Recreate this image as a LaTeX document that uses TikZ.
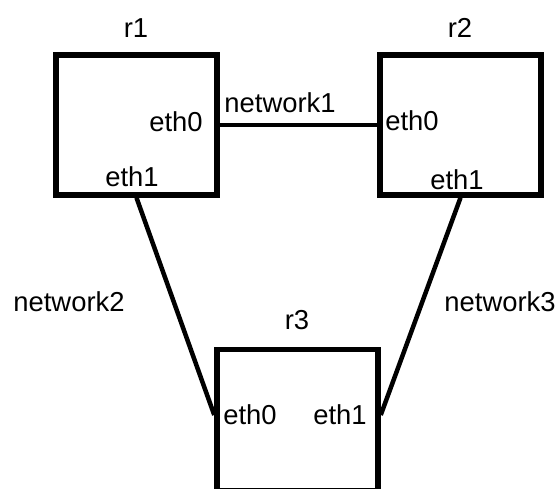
\documentclass[tikz,border=0pt]{standalone}
\usepackage{fontspec}
\setmainfont{Liberation Sans}
\usetikzlibrary{calc}
\tikzset{
 router/.style={draw,line width=.055in,minimum width=1.61in,minimum height=1.40in,inner sep=0},
 link/.style={line width=.045in},
 tag/.style={inner sep=0,font=\fontsize{19.8}{23}\selectfont}
}
\begin{document}
\begin{tikzpicture}[x=1in,y=1in]
\path[use as bounding box] (0,0) rectangle (5.58,4.89);
% routers
\node[router] (r1) at (1.365,3.64) {};
\node[router] (r2) at (4.605,3.64) {};
\node[router,minimum height=1.41in] (r3) at (2.975,0.69) {};
\node[tag] (r1name) at (1.36,4.61) {r1};
\node[tag] (r2name) at (4.60,4.61) {r2};
\node[tag] (r3name) at (2.97,1.69) {r3};
% interfaces
\node[tag] (r1eth0) at (1.76,3.67) {eth0};
\node[tag] (r1eth1) at (1.32,3.12) {eth1};
\node[tag] (r2eth0) at (4.12,3.68) {eth0};
\node[tag] (r2eth1) at (4.57,3.09) {eth1};
\node[tag] (r3eth0) at (2.50,0.74) {eth0};
\node[tag] (r3eth1) at (3.40,0.74) {eth1};
% networks
\node[tag] (net1) at (2.80,3.86) {network1};
\node[tag] (net2) at (0.69,1.87) {network2};
\node[tag] (net3) at (5.00,1.87) {network3};
\draw[link] (r1.east) -- (r2.west);
\draw[link] (r1.south) -- ([yshift=.05in]r3.west);
\draw[link] (r2.south) -- ([yshift=.05in]r3.east);
\end{tikzpicture}
\end{document}
